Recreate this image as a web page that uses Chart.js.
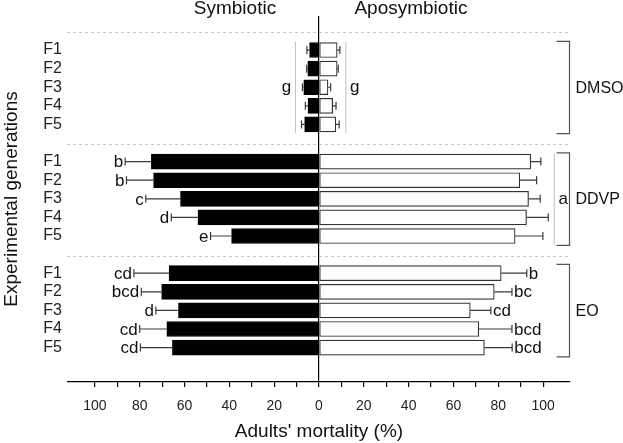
<!DOCTYPE html>
<html>
<head>
<meta charset="utf-8">
<script src="https://cdn.jsdelivr.net/npm/chart.js@4.4.1/dist/chart.umd.min.js"></script>
<style>
    html, body { margin: 0; padding: 0; background: #fff; }
    #wrap { width: 623px; height: 443px; position: relative; }
</style>
</head>
<body>
<div id="wrap"><canvas id="mortality-chart"></canvas></div>
<script>
const generations = ['F1', 'F2', 'F3', 'F4', 'F5'];
const treatments = ['DMSO', 'DDVP', 'EO'];

// mortality (%) per treatment, F1..F5
const symbioticMean = [
    [4.2, 5.0, 6.8, 4.9, 6.4],
    [74.8, 73.8, 61.8, 54.0, 39.0],
    [66.9, 70.2, 62.7, 67.9, 65.4]
];
const symbioticErr = [
    [1.2, 0.5, 0.6, 1.2, 1.4],
    [11.7, 12.1, 15.5, 11.9, 9.4],
    [15.7, 9.1, 10.1, 12.1, 14.3]
];
const aposymbioticMean = [
    [8.1, 8.1, 4.0, 6.1, 7.5],
    [94.5, 89.6, 93.5, 92.6, 87.5],
    [81.3, 78.2, 67.5, 71.3, 73.8]
];
const aposymbioticErr = [
    [1.2, 0.5, 1.2, 1.5, 1.5],
    [4.5, 7.5, 5.2, 9.7, 12.4],
    [11.4, 7.9, 9.2, 14.8, 12.4]
];

// significance letters: per bar, or one letter for the whole group
const symbioticLetters = [null, ['b', 'b', 'c', 'd', 'e'], ['cd', 'bcd', 'd', 'cd', 'cd']];
const symbioticGroupLetter = ['g', null, null];
const aposymbioticLetters = [null, null, ['b', 'bc', 'cd', 'bcd', 'bcd']];
const aposymbioticGroupLetter = ['g', 'a', null];

const FONT = "'Liberation Sans', Arial, sans-serif";
const groupStride = generations.length + 1;

// row position of every bar on the y scale (one empty row between treatments)
const rowPos = [];
const rowLabels = [];
treatments.forEach((t, g) => {
    generations.forEach((gen, i) => {
        rowPos.push(g * groupStride + i);
        rowLabels.push(gen);
    });
});

function buildData(means, sign) {
    const out = [];
    means.forEach((group, g) => {
        group.forEach((v, i) => out.push({x: sign * v, y: g * groupStride + i}));
    });
    return out;
}

const overlayPlugin = {
    id: 'overlay',
    beforeDatasetsDraw(chart) {
        const {ctx, chartArea, scales: {x, y}} = chart;
        ctx.save();
        ctx.strokeStyle = '#c8c8c8';
        ctx.lineWidth = 1;
        ctx.setLineDash([3, 3]);
        treatments.forEach((t, g) => {
            const py = Math.round(y.getPixelForValue(g * groupStride - 0.95)) + 0.5;
            ctx.beginPath();
            ctx.moveTo(chartArea.left - 1, py);
            ctx.lineTo(chartArea.right - 2, py);
            ctx.stroke();
        });
        ctx.restore();
    },
    afterDatasetsDraw(chart) {
        const {ctx, chartArea, scales: {x, y}} = chart;
        ctx.save();

        // error bars
        const sets = [
            {mean: symbioticMean, err: symbioticErr, sign: -1, letters: symbioticLetters, group: symbioticGroupLetter},
            {mean: aposymbioticMean, err: aposymbioticErr, sign: 1, letters: aposymbioticLetters, group: aposymbioticGroupLetter}
        ];
        ctx.strokeStyle = '#3a3a3a';
        ctx.lineWidth = 1.2;
        ctx.fillStyle = '#111';
        ctx.font = '17px ' + FONT;
        ctx.textBaseline = 'middle';
        sets.forEach(s => {
            s.mean.forEach((group, g) => {
                let far = 0;
                group.forEach((v, i) => {
                    const py = y.getPixelForValue(g * groupStride + i);
                    const x0 = x.getPixelForValue(s.sign * v);
                    const x1 = x.getPixelForValue(s.sign * (v + s.err[g][i]));
                    far = Math.max(far, v + s.err[g][i]);
                    ctx.beginPath();
                    ctx.moveTo(x0, py);
                    ctx.lineTo(x1, py);
                    ctx.moveTo(x1, py - 4);
                    ctx.lineTo(x1, py + 4);
                    ctx.stroke();
                    if (s.letters[g]) {
                        ctx.textAlign = s.sign < 0 ? 'right' : 'left';
                        ctx.fillText(s.letters[g][i], x1 + s.sign * 2, py + 1);
                    }
                });
                if (s.group[g]) {
                    const lx = x.getPixelForValue(s.sign * far) + s.sign * 6;
                    const top = y.getPixelForValue(g * groupStride - 0.45);
                    const bottom = y.getPixelForValue(g * groupStride + generations.length - 0.55);
                    ctx.save();
                    ctx.strokeStyle = '#c0c0c0';
                    ctx.lineWidth = 1;
                    ctx.beginPath();
                    ctx.moveTo(lx, top);
                    ctx.lineTo(lx, bottom);
                    ctx.stroke();
                    ctx.restore();
                    ctx.textAlign = 'center';
                    ctx.fillText(s.group[g], lx + s.sign * 9, (top + bottom) / 2);
                }
            });
        });

        // treatment brackets on the right
        const bx = chartArea.right - 0.5;
        ctx.strokeStyle = '#555';
        ctx.lineWidth = 1.2;
        ctx.font = '16px ' + FONT;
        ctx.textAlign = 'left';
        treatments.forEach((t, g) => {
            const top = y.getPixelForValue(g * groupStride - 0.47);
            const bottom = y.getPixelForValue(g * groupStride + generations.length - 0.5);
            ctx.beginPath();
            ctx.moveTo(bx - 13, top);
            ctx.lineTo(bx, top);
            ctx.lineTo(bx, bottom);
            ctx.lineTo(bx - 13, bottom);
            ctx.stroke();
            ctx.fillText(t, bx + 6, y.getPixelForValue(g * groupStride + 2) + 1);
        });

        // side headings
        ctx.font = '19px ' + FONT;
        ctx.textAlign = 'center';
        ctx.fillText('Symbiotic', x.getPixelForValue(-37.5), 9);
        ctx.fillText('Aposymbiotic', x.getPixelForValue(41), 9);
        ctx.restore();
    }
};

new Chart(document.getElementById('mortality-chart'), {
    type: 'bar',
    data: {
        datasets: [
            {
                label: 'Symbiotic',
                data: buildData(symbioticMean, -1),
                backgroundColor: '#000',
                borderColor: '#000',
                borderWidth: 1,
                barThickness: 15,
                grouped: false
            },
            {
                label: 'Aposymbiotic',
                data: buildData(aposymbioticMean, 1),
                backgroundColor: '#fff',
                borderColor: '#333',
                borderWidth: 1.2,
                borderSkipped: false,
                barThickness: 15,
                grouped: false
            }
        ]
    },
    options: {
        indexAxis: 'y',
        responsive: true,
        maintainAspectRatio: false,
        animation: false,
        layout: {
            padding: {top: 16, right: 53, left: 0, bottom: 0}
        },
        plugins: {
            legend: {display: false},
            tooltip: {enabled: false}
        },
        scales: {
            x: {
                type: 'linear',
                min: -112,
                max: 112,
                afterFit: scale => { scale.height = 61; },
                afterBuildTicks: scale => {
                    scale.ticks = scale.ticks.filter(t => Math.abs(t.value % 10) < 1e-6);
                },
                ticks: {
                    stepSize: 10,
                    autoSkip: false,
                    maxRotation: 0,
                    padding: 11,
                    color: '#222',
                    font: {family: FONT, size: 14},
                    callback: value => (value % 20 === 0 && Math.abs(value) <= 100) ? Math.abs(value) : ''
                },
                grid: {
                    drawOnChartArea: true,
                    color: ctx => (ctx.tick && ctx.tick.value === 0) ? '#000' : 'rgba(0,0,0,0)',
                    lineWidth: 1.2,
                    tickColor: '#000',
                    tickLength: 5
                },
                border: {display: true, color: '#000', width: 1.2},
                title: {
                    display: true,
                    text: "Adults' mortality (%)",
                    color: '#111',
                    font: {family: FONT, size: 19},
                    padding: {top: 0, bottom: 0}
                }
            },
            y: {
                type: 'linear',
                reverse: true,
                offset: false,
                bounds: 'data',
                min: -1.83,
                max: 17.85,
                afterFit: scale => { scale.width = 68; },
                afterBuildTicks: scale => {
                    scale.ticks = rowPos.map(v => ({value: v}));
                },
                ticks: {
                    autoSkip: false,
                    padding: 6,
                    color: '#222',
                    font: {family: FONT, size: 16},
                    callback: (value, index) => rowLabels[index]
                },
                grid: {display: false, drawTicks: false, offset: false},
                border: {display: false},
                title: {
                    display: true,
                    text: 'Experimental generations',
                    color: '#111',
                    font: {family: FONT, size: 19},
                    padding: {top: 0, bottom: 0}
                }
            }
        }
    },
    plugins: [overlayPlugin]
});
</script>
</body>
</html>
